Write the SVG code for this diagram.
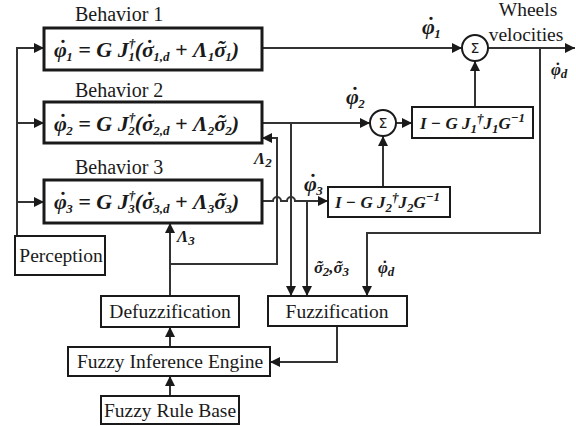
<svg xmlns="http://www.w3.org/2000/svg" width="576" height="426" viewBox="0 0 576 426">
<style>
.bb{fill:#fff;stroke:#1a1a1a;stroke-width:3}
.b{fill:#fff;stroke:#1a1a1a;stroke-width:2}
.c{fill:#fff;stroke:#1a1a1a;stroke-width:2}
.ln{fill:none;stroke:#333;stroke-width:2}
.t{font-family:"Liberation Serif","Times New Roman",serif;font-size:19.5px;fill:#1a1a1a}
.tb{font-family:"Liberation Serif","Times New Roman",serif;font-size:20px;fill:#1a1a1a}
.eq{font-family:"Liberation Serif","DejaVu Serif",serif;font-size:22px;font-weight:bold;font-style:italic;fill:#1a1a1a}
.eqs{font-family:"Liberation Serif","DejaVu Serif",serif;font-size:17px;font-weight:bold;font-style:italic;fill:#1a1a1a}
.s{font-size:13px}
.sig{font-family:"DejaVu Sans",sans-serif;font-size:14px;fill:#1a1a1a}
</style>
<defs>
<marker id="ar" viewBox="0 0 10 10" refX="10" refY="5" markerWidth="5" markerHeight="5" orient="auto" markerUnits="strokeWidth">
<path d="M0,0 L10,5 L0,10 z" fill="#1a1a1a"/>
</marker>
</defs>

<g id="connectors">
<path class="ln" d="M17,236 V48 H44" marker-end="url(#ar)"/>
<path class="ln" d="M17,123 H44" marker-end="url(#ar)"/>
<path class="ln" d="M17,202 H44" marker-end="url(#ar)"/>
<path class="ln" d="M262,48 H462" marker-end="url(#ar)"/>
<path class="ln" d="M488,48 H575" marker-end="url(#ar)"/>
<path class="ln" d="M540,48 V233 H367 V296" marker-end="url(#ar)"/>
<path class="ln" d="M262,123 H370" marker-end="url(#ar)"/>
<path class="ln" d="M291,123 V296" marker-end="url(#ar)"/>
<path class="ln" d="M396,123 H412" marker-end="url(#ar)"/>
<path class="ln" d="M475,107 V61" marker-end="url(#ar)"/>
<path class="ln" d="M262,201 H273 A4,4 0 0 1 281,201 H287 A4,4 0 0 1 295,201 H328" marker-end="url(#ar)"/>
<path class="ln" d="M307,201 V296" marker-end="url(#ar)"/>
<path class="ln" d="M383,187 V136" marker-end="url(#ar)"/>
<path class="ln" d="M170,296 V223" marker-end="url(#ar)"/>
<path class="ln" d="M170,264 H277 V138 H262" marker-end="url(#ar)"/>
<path class="ln" d="M170,347 V327" marker-end="url(#ar)"/>
<path class="ln" d="M170,396 V376" marker-end="url(#ar)"/>
<path class="ln" d="M337,326 V362 H270" marker-end="url(#ar)"/>
</g>

<g id="behavior1">
<text class="tb" x="75" y="21">Behavior 1</text>
<rect class="bb" x="44" y="28" width="218" height="42"/>
<text class="eq" x="54" y="57"><tspan>φ</tspan><tspan dx="-9" dy="-2">˙</tspan><tspan class="s" dx="1" dy="6">1</tspan><tspan dy="-4"> = G J</tspan><tspan class="s" dy="-9">†</tspan><tspan class="s" dx="-7" dy="13">1</tspan><tspan dy="-4">(σ</tspan><tspan dx="-9" dy="-2">˙</tspan><tspan class="s" dx="1" dy="6">1,d</tspan><tspan dy="-4"> + Λ</tspan><tspan class="s" dy="4">1</tspan><tspan dy="-4">σ</tspan><tspan dx="-9" dy="-2">˜</tspan><tspan class="s" dx="1" dy="6">1</tspan><tspan dy="-4">)</tspan></text>
</g>

<g id="behavior2">
<text class="tb" x="75" y="97">Behavior 2</text>
<rect class="bb" x="44" y="102" width="218" height="41"/>
<text class="eq" x="54" y="131"><tspan>φ</tspan><tspan dx="-9" dy="-2">˙</tspan><tspan class="s" dx="1" dy="6">2</tspan><tspan dy="-4"> = G J</tspan><tspan class="s" dy="-9">†</tspan><tspan class="s" dx="-7" dy="13">2</tspan><tspan dy="-4">(σ</tspan><tspan dx="-9" dy="-2">˙</tspan><tspan class="s" dx="1" dy="6">2,d</tspan><tspan dy="-4"> + Λ</tspan><tspan class="s" dy="4">2</tspan><tspan dy="-4">σ</tspan><tspan dx="-9" dy="-2">˜</tspan><tspan class="s" dx="1" dy="6">2</tspan><tspan dy="-4">)</tspan></text>
</g>

<g id="behavior3">
<text class="tb" x="75" y="174">Behavior 3</text>
<rect class="bb" x="44" y="180" width="218" height="43"/>
<text class="eq" x="54" y="209"><tspan>φ</tspan><tspan dx="-9" dy="-2">˙</tspan><tspan class="s" dx="1" dy="6">3</tspan><tspan dy="-4"> = G J</tspan><tspan class="s" dy="-9">†</tspan><tspan class="s" dx="-7" dy="13">3</tspan><tspan dy="-4">(σ</tspan><tspan dx="-9" dy="-2">˙</tspan><tspan class="s" dx="1" dy="6">3,d</tspan><tspan dy="-4"> + Λ</tspan><tspan class="s" dy="4">3</tspan><tspan dy="-4">σ</tspan><tspan dx="-9" dy="-2">˜</tspan><tspan class="s" dx="1" dy="6">3</tspan><tspan dy="-4">)</tspan></text>
</g>

<g id="sum1">
<circle class="c" cx="475" cy="48" r="13"/>
<text class="sig" x="475" y="53" text-anchor="middle">Σ</text>
</g>
<g id="sum2">
<circle class="c" cx="383" cy="123" r="13"/>
<text class="sig" x="383" y="128" text-anchor="middle">Σ</text>
</g>

<g id="proj1">
<rect class="b" x="412" y="107" width="121" height="31"/>
<text class="eqs" x="420" y="129"><tspan>I − G J</tspan><tspan class="s" dy="4">1</tspan><tspan class="s" dy="-10">†</tspan><tspan dy="6">J</tspan><tspan class="s" dy="4">1</tspan><tspan dy="-4">G</tspan><tspan class="s" dy="-7">−1</tspan></text>
</g>
<g id="proj2">
<rect class="b" x="328" y="187" width="122" height="30"/>
<text class="eqs" x="335" y="208"><tspan>I − G J</tspan><tspan class="s" dy="4">2</tspan><tspan class="s" dy="-10">†</tspan><tspan dy="6">J</tspan><tspan class="s" dy="4">2</tspan><tspan dy="-4">G</tspan><tspan class="s" dy="-7">−1</tspan></text>
</g>

<g id="perception">
<rect class="b" x="15" y="236" width="90" height="39"/>
<text class="t" x="61" y="262" text-anchor="middle">Perception</text>
</g>
<g id="defuzzification">
<rect class="b" x="101" y="296" width="138" height="31"/>
<text class="t" x="170" y="318" text-anchor="middle">Defuzzification</text>
</g>
<g id="fuzzification">
<rect class="b" x="268" y="296" width="139" height="30"/>
<text class="t" x="337" y="318" text-anchor="middle">Fuzzification</text>
</g>
<g id="inference">
<rect class="b" x="68" y="347" width="202" height="29"/>
<text class="t" x="170" y="368" text-anchor="middle">Fuzzy Inference Engine</text>
</g>
<g id="rulebase">
<rect class="b" x="101" y="396" width="138" height="28"/>
<text class="t" x="170" y="417" text-anchor="middle">Fuzzy Rule Base</text>
</g>

<g id="labels">
<text class="t" x="528" y="16" text-anchor="middle">Wheels</text>
<text class="t" x="526" y="41" text-anchor="middle">velocities</text>
<text class="eq" x="422" y="34"><tspan>φ</tspan><tspan dx="-9" dy="-2">˙</tspan><tspan class="s" dx="1" dy="6">1</tspan></text>
<text class="eqs" x="551" y="75"><tspan>φ</tspan><tspan dx="-7" dy="-1">˙</tspan><tspan class="s" dx="1" dy="4">d</tspan></text>
<text class="eq" x="346" y="104"><tspan>φ</tspan><tspan dx="-9" dy="-2">˙</tspan><tspan class="s" dx="1" dy="6">2</tspan></text>
<text class="eq" x="304" y="191"><tspan>φ</tspan><tspan dx="-9" dy="-2">˙</tspan><tspan class="s" dx="1" dy="6">3</tspan></text>
<text class="eqs" x="254" y="164"><tspan>Λ</tspan><tspan class="s" dy="3">2</tspan></text>
<text class="eqs" x="177" y="242"><tspan>Λ</tspan><tspan class="s" dy="3">3</tspan></text>
<text class="eqs" x="314" y="273"><tspan>σ</tspan><tspan dx="-7" dy="-1">˜</tspan><tspan class="s" dx="1" dy="4">2</tspan><tspan dy="-3">,σ</tspan><tspan dx="-7" dy="-1">˜</tspan><tspan class="s" dx="1" dy="4">3</tspan></text>
<text class="eqs" x="378" y="273"><tspan>φ</tspan><tspan dx="-7" dy="-1">˙</tspan><tspan class="s" dx="1" dy="4">d</tspan></text>
</g>
</svg>
